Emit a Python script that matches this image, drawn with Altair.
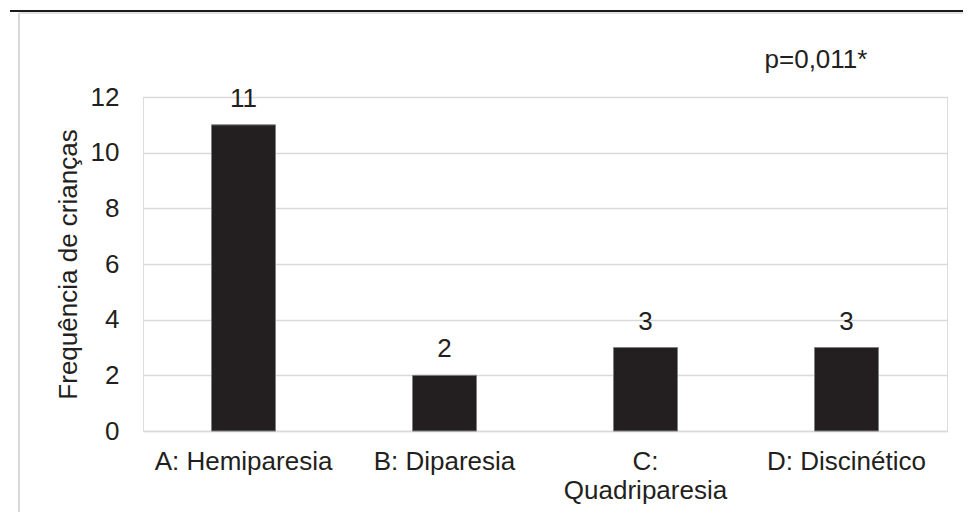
import altair as alt
import pandas as pd

categories = ["A: Hemiparesia", "B: Diparesia", "C: Quadriparesia", "D: Discinético"]
values = [11, 2, 3, 3]
y_ticks = [0, 2, 4, 6, 8, 10, 12]
p_text = ["p=0,011*"]

FONT = "Liberation Sans"
TXT = "#231f20"
FS = 26

df = pd.DataFrame({"cat": categories, "val": values})

x_enc = alt.X(
    "cat:N",
    sort=categories,
    scale=alt.Scale(paddingInner=0.0, paddingOuter=0.0),
    axis=alt.Axis(
        title=None,
        labelAngle=0,
        ticks=False,
        domainColor="#d9d9d9",
        domainWidth=1.5,
        labelFontSize=FS,
        labelFont=FONT,
        labelColor=TXT,
        labelPadding=17,
        labelLineHeight=29,
        labelExpr="datum.value == 'C: Quadriparesia' ? ['C:', 'Quadriparesia'] : datum.value",
    ),
)
y_enc = alt.Y(
    "val:Q",
    scale=alt.Scale(domain=[0, 12], nice=False),
    axis=alt.Axis(
        values=y_ticks,
        title="Frequência de crianças",
        titleFont=FONT,
        titleFontSize=FS,
        titleFontWeight="normal",
        titleColor=TXT,
        titlePadding=9,
        domain=False,
        ticks=False,
        gridColor="#d9d9d9",
        gridWidth=1.5,
        labelFontSize=FS,
        labelFont=FONT,
        labelColor=TXT,
        labelPadding=24,
    ),
)

base = alt.Chart(df)
bars = base.mark_bar(size=64, color="#231f20", stroke="#808080", strokeWidth=1).encode(x=x_enc, y=y_enc)
labels = base.mark_text(
    baseline="alphabetic", dy=-18, fontSize=FS, font=FONT, color=TXT
).encode(x=alt.X("cat:N", sort=categories), y="val:Q", text="val:Q")

one = pd.DataFrame({"t": p_text})
ptext = alt.Chart(one).mark_text(
    fontSize=FS, font=FONT, color=TXT, baseline="middle", align="center"
).encode(x=alt.value(673), y=alt.value(-37), text="t:N")

black_line = alt.Chart(one).mark_rule(color="#1a1a1a", strokeWidth=2).encode(
    x=alt.value(-133), x2=alt.value(830), y=alt.value(-86)
)
border_top = alt.Chart(one).mark_rule(color="#d9d9d9", strokeWidth=1.5).encode(
    x=alt.value(-124), x2=alt.value(830), y=alt.value(-84)
)
border_left = alt.Chart(one).mark_rule(color="#d9d9d9", strokeWidth=2).encode(
    x=alt.value(-124), y=alt.value(-84), y2=alt.value(420)
)

chart = (
    alt.layer(bars, labels, ptext, black_line, border_top, border_left)
    .properties(
        width=804,
        height=334,
        autosize=alt.AutoSizeParams(type="none"),
        padding={"left": 135, "top": 89, "right": 16, "bottom": 81},
    )
    .configure_view(stroke=None)
    .configure(background="white")
)

chart.save("out.html", embed_options={"renderer": "svg", "actions": False})
